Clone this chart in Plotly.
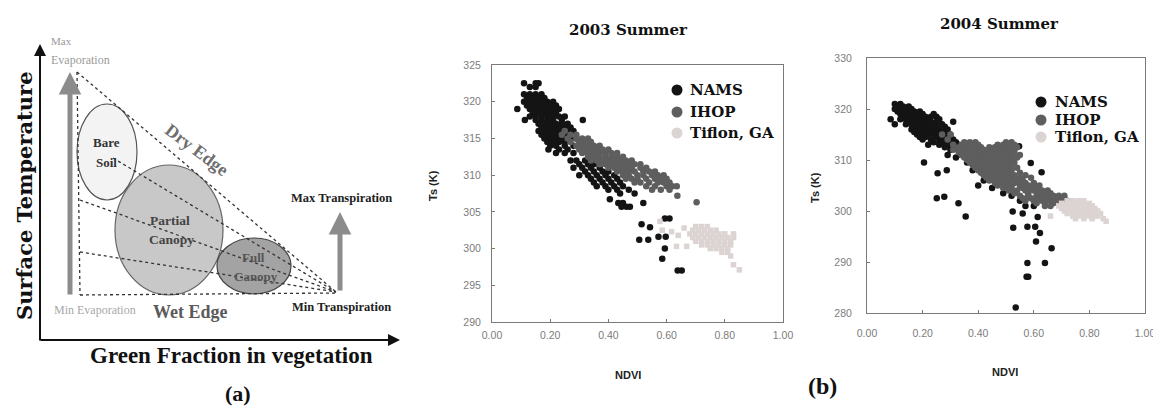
import plotly.graph_objects as go

W, H = 1161, 410
OFF = 8  # the page body margin shifts the figure by 8 px; positions below are window pixels

# ---------------- Scatter data ----------------
# rows: (Ts [K], [NDVI values observed at that Ts])
nams_2003_rows = [
    (322.5, [0.110, 0.150, 0.160]),
    (322.0, [0.130, 0.150]),
    (321.0, [0.110, 0.130, 0.150, 0.170]),
    (320.5, [0.120, 0.140, 0.160, 0.180]),
    (320.0, [0.110, 0.130, 0.150, 0.170, 0.190, 0.210]),
    (319.5, [0.120, 0.140, 0.160, 0.180, 0.200, 0.220]),
    (319.0, [0.087, 0.130, 0.150, 0.170, 0.190, 0.210, 0.230]),
    (318.5, [0.140, 0.160, 0.180, 0.200, 0.220]),
    (318.0, [0.130, 0.150, 0.170, 0.190, 0.210, 0.230, 0.250]),
    (317.5, [0.113, 0.150, 0.170, 0.190, 0.210, 0.240, 0.312]),
    (317.0, [0.160, 0.180, 0.200, 0.220, 0.240, 0.260]),
    (316.5, [0.170, 0.190, 0.210, 0.230, 0.250, 0.270]),
    (316.0, [0.160, 0.180, 0.200, 0.220, 0.240, 0.260, 0.280]),
    (315.5, [0.170, 0.190, 0.210, 0.230, 0.250]),
    (315.0, [0.180, 0.200, 0.220, 0.240, 0.270, 0.290]),
    (314.5, [0.190, 0.210, 0.230, 0.250]),
    (314.0, [0.200, 0.220, 0.250, 0.280]),
    (313.5, [0.194, 0.230, 0.260]),
    (313.0, [0.220, 0.250, 0.280]),
    (312.0, [0.270, 0.290, 0.320]),
    (311.5, [0.300, 0.330, 0.350]),
    (311.0, [0.280, 0.310, 0.340, 0.370]),
    (310.5, [0.320, 0.350, 0.380, 0.400]),
    (310.0, [0.300, 0.330, 0.360, 0.390, 0.420]),
    (309.5, [0.340, 0.370, 0.400, 0.430]),
    (309.0, [0.350, 0.380, 0.410, 0.440]),
    (308.5, [0.360, 0.390, 0.420, 0.450]),
    (308.0, [0.400, 0.430, 0.470]),
    (307.5, [0.440, 0.490]),
    (306.7, [0.405]),
    (306.2, [0.434, 0.450, 0.520]),
    (305.7, [0.445, 0.462, 0.474]),
    (304.1, [0.594, 0.610]),
    (303.3, [0.514]),
    (302.9, [0.543]),
    (301.6, [0.572, 0.597]),
    (301.2, [0.506, 0.537]),
    (300.0, [0.594]),
    (298.6, [0.585]),
    (297.0, [0.638, 0.652]),
]

ihop_2003_rows = [
    (316.0, [0.250]),
    (315.5, [0.240, 0.270, 0.290]),
    (315.0, [0.260, 0.290, 0.310, 0.330]),
    (314.5, [0.270, 0.300, 0.320, 0.340]),
    (314.0, [0.290, 0.310, 0.330, 0.350, 0.370]),
    (313.5, [0.300, 0.320, 0.340, 0.360, 0.380, 0.400]),
    (313.0, [0.310, 0.330, 0.350, 0.370, 0.390, 0.410, 0.430]),
    (312.5, [0.330, 0.350, 0.370, 0.390, 0.410, 0.430, 0.450]),
    (312.0, [0.340, 0.360, 0.380, 0.400, 0.420, 0.440, 0.460, 0.480]),
    (311.5, [0.370, 0.390, 0.410, 0.430, 0.450, 0.470, 0.490, 0.510]),
    (311.0, [0.400, 0.420, 0.440, 0.460, 0.480, 0.510, 0.530]),
    (310.5, [0.430, 0.450, 0.470, 0.490, 0.520, 0.540, 0.560]),
    (310.0, [0.450, 0.470, 0.500, 0.520, 0.550, 0.570, 0.590]),
    (309.5, [0.460, 0.480, 0.500, 0.530, 0.560, 0.580, 0.600]),
    (309.0, [0.490, 0.510, 0.540, 0.570, 0.590, 0.610]),
    (308.5, [0.530, 0.560, 0.600, 0.620, 0.635]),
    (308.0, [0.550, 0.580, 0.610]),
    (307.2, [0.637]),
    (306.3, [0.703]),
]

tifton_2003_rows = [
    (303.7, [0.577]),
    (303.0, [0.700, 0.720, 0.740]),
    (302.8, [0.660]),
    (302.5, [0.585, 0.690, 0.710, 0.730, 0.750, 0.770]),
    (302.3, [0.617]),
    (302.0, [0.680, 0.700, 0.720, 0.740, 0.760, 0.780, 0.800, 0.830]),
    (301.8, [0.640]),
    (301.5, [0.690, 0.710, 0.730, 0.750, 0.770, 0.790, 0.810, 0.830]),
    (301.0, [0.700, 0.720, 0.740, 0.760, 0.780, 0.800, 0.820]),
    (300.5, [0.720, 0.740, 0.760, 0.780, 0.800, 0.820]),
    (300.3, [0.634, 0.669]),
    (300.0, [0.750, 0.770, 0.790, 0.810]),
    (299.5, [0.790, 0.810]),
    (299.0, [0.820]),
    (297.8, [0.830]),
    (297.1, [0.850]),
]

nams_2004_rows = [
    (321.0, [0.100, 0.120]),
    (320.5, [0.110, 0.130, 0.150]),
    (320.0, [0.100, 0.120, 0.140, 0.160]),
    (319.5, [0.110, 0.130, 0.150, 0.170, 0.190]),
    (319.0, [0.120, 0.140, 0.160, 0.180, 0.200, 0.240]),
    (318.5, [0.130, 0.150, 0.170, 0.190, 0.210, 0.230, 0.250]),
    (318.0, [0.085, 0.120, 0.140, 0.160, 0.180, 0.200, 0.220, 0.260]),
    (317.5, [0.150, 0.170, 0.190, 0.210, 0.230, 0.250, 0.310]),
    (317.0, [0.100, 0.140, 0.160, 0.180, 0.200, 0.220, 0.240, 0.270]),
    (316.5, [0.170, 0.190, 0.210, 0.230, 0.250, 0.280]),
    (316.0, [0.160, 0.180, 0.200, 0.220, 0.240, 0.260, 0.290]),
    (315.5, [0.170, 0.190, 0.210, 0.230, 0.250, 0.270]),
    (315.0, [0.180, 0.200, 0.220, 0.240, 0.260, 0.280, 0.300]),
    (314.5, [0.190, 0.210, 0.250, 0.270, 0.290]),
    (314.0, [0.200, 0.230, 0.260, 0.280, 0.310]),
    (313.5, [0.240, 0.270, 0.300, 0.320]),
    (313.0, [0.220, 0.260, 0.290, 0.330]),
    (312.7, [0.547]),
    (312.5, [0.280, 0.310, 0.340]),
    (312.0, [0.300, 0.330, 0.360]),
    (311.0, [0.290, 0.340]),
    (310.5, [0.320]),
    (309.5, [0.205, 0.360]),
    (309.4, [0.589]),
    (308.0, [0.287, 0.380]),
    (307.6, [0.628]),
    (307.4, [0.254]),
    (306.0, [0.420, 0.470]),
    (305.0, [0.400]),
    (304.5, [0.450]),
    (303.5, [0.490]),
    (303.0, [0.520]),
    (302.8, [0.278]),
    (302.5, [0.251]),
    (302.0, [0.550]),
    (301.5, [0.329]),
    (301.0, [0.570, 0.600]),
    (299.9, [0.524]),
    (299.5, [0.560]),
    (298.9, [0.355]),
    (298.8, [0.614]),
    (296.9, [0.577, 0.605]),
    (296.7, [0.526]),
    (295.7, [0.622]),
    (294.0, [0.608]),
    (292.7, [0.664]),
    (289.8, [0.577, 0.640]),
    (287.1, [0.574, 0.580]),
    (281.1, [0.535]),
]

ihop_2004_rows = [
    (315.0, [0.270, 0.300]),
    (314.0, [0.290]),
    (313.5, [0.350, 0.370, 0.390, 0.500, 0.520]),
    (313.0, [0.310, 0.340, 0.360, 0.380, 0.400, 0.470, 0.490, 0.510, 0.530]),
    (312.5, [0.330, 0.350, 0.370, 0.390, 0.410, 0.440, 0.460, 0.480, 0.500, 0.520, 0.540]),
    (312.0, [0.310, 0.340, 0.360, 0.380, 0.400, 0.420, 0.450, 0.470, 0.490, 0.510, 0.530]),
    (311.5, [0.330, 0.350, 0.370, 0.390, 0.410, 0.430, 0.450, 0.470, 0.490, 0.510, 0.530]),
    (311.0, [0.340, 0.360, 0.380, 0.400, 0.420, 0.440, 0.460, 0.480, 0.500, 0.520, 0.550]),
    (310.5, [0.350, 0.370, 0.390, 0.410, 0.430, 0.450, 0.470, 0.490, 0.510, 0.540]),
    (310.0, [0.360, 0.380, 0.400, 0.420, 0.440, 0.460, 0.480, 0.500, 0.520]),
    (309.5, [0.370, 0.390, 0.410, 0.430, 0.450, 0.470, 0.490, 0.510, 0.530]),
    (309.0, [0.380, 0.400, 0.420, 0.440, 0.460, 0.480, 0.500, 0.520]),
    (308.5, [0.390, 0.410, 0.430, 0.450, 0.470, 0.490, 0.510, 0.540]),
    (308.0, [0.400, 0.420, 0.440, 0.460, 0.480, 0.500, 0.520]),
    (307.5, [0.410, 0.430, 0.450, 0.470, 0.490, 0.510, 0.550]),
    (307.0, [0.420, 0.440, 0.460, 0.480, 0.500, 0.530, 0.570]),
    (306.5, [0.430, 0.450, 0.470, 0.490, 0.520, 0.550, 0.590]),
    (306.0, [0.440, 0.460, 0.480, 0.510, 0.540, 0.560]),
    (305.5, [0.460, 0.480, 0.500, 0.530, 0.550, 0.570, 0.600]),
    (305.0, [0.470, 0.500, 0.520, 0.550, 0.580, 0.620]),
    (304.5, [0.490, 0.520, 0.560, 0.590, 0.610]),
    (304.0, [0.510, 0.540, 0.570, 0.600, 0.630, 0.650]),
    (303.5, [0.530, 0.580, 0.620, 0.640, 0.660]),
    (303.0, [0.550, 0.580, 0.610, 0.640, 0.670, 0.690, 0.710]),
    (302.5, [0.560, 0.590, 0.620, 0.650, 0.680, 0.700]),
    (302.0, [0.570, 0.600, 0.630, 0.660, 0.690, 0.720]),
    (301.8, [0.736]),
    (301.5, [0.610, 0.640, 0.670]),
    (301.0, [0.640, 0.660]),
]

tifton_2004_rows = [
    (302.0, [0.720, 0.740, 0.760, 0.780]),
    (301.5, [0.700, 0.720, 0.740, 0.760, 0.780, 0.800]),
    (301.0, [0.690, 0.710, 0.730, 0.750, 0.770, 0.790, 0.810]),
    (300.5, [0.700, 0.720, 0.740, 0.760, 0.780, 0.800, 0.820]),
    (300.0, [0.710, 0.730, 0.750, 0.770, 0.790, 0.810, 0.830]),
    (299.5, [0.720, 0.740, 0.760, 0.780, 0.800, 0.820, 0.840]),
    (299.0, [0.660, 0.740, 0.760, 0.780, 0.800, 0.830]),
    (298.5, [0.750, 0.780, 0.810, 0.850]),
    (298.0, [0.860]),
]

series_names = ["NAMS", "IHOP", "Tiflon, GA"]
series_colors = ["#141414", "#5e5e5e", "#dcd3d3"]
series_sizes = [6.5, 6.5, 5.5]

x_ticks = [0.0, 0.2, 0.4, 0.6, 0.8, 1.0]
y_ticks_2003 = [290, 295, 300, 305, 310, 315, 320, 325]
y_ticks_2004 = [280, 290, 300, 310, 320, 330]
panel_titles = ["2003 Summer", "2004 Summer"]

# ---------------- Schematic (a) geometry, in window-pixel diagram units ----------------
ellipses = [  # cx, cy, rx, ry, fill, line colour
    (107, 152, 30, 48, "#f3f3f3", "#555555"),
    (169, 230, 54, 65, "#c8c8c8", "#666666"),
    (254, 266, 37, 28, "#a3a3a3", "#444444"),
]
dashed_lines = [  # x0, y0, x1, y1
    (77, 72, 336, 292),
    (77, 72, 80, 295),
    (80, 295, 336, 293),
    (80, 200, 336, 292),
    (80, 252, 336, 292),
    (113, 158, 336, 292),
]
grey_arrows = [(70, 296, 70, 72), (340, 292, 340, 212)]   # tail x,y -> head x,y
axis_arrows = [(40, 342, 40, 44), (39, 340, 400, 340)]


def expand(rows):
    xs, ys = [], []
    for y, xlist in rows:
        for x in xlist:
            xs.append(x)
            ys.append(y)
    return xs, ys


def px(x):
    return (x - OFF) / W


def py(y):
    return 1 - (y - OFF) / H


fig = go.Figure()

for rows_list, xa, ya in [
    ([nams_2003_rows, ihop_2003_rows, tifton_2003_rows], "x", "y"),
    ([nams_2004_rows, ihop_2004_rows, tifton_2004_rows], "x2", "y2"),
]:
    for i, rows in enumerate(rows_list):
        xs, ys = expand(rows)
        fig.add_trace(go.Scatter(
            x=xs, y=ys, mode="markers", name=series_names[i], xaxis=xa, yaxis=ya,
            marker=dict(color=series_colors[i], size=series_sizes[i],
                        symbol="circle" if i < 2 else "square",
                        line=dict(width=0)),
            showlegend=False, hoverinfo="skip"))

tickfont = dict(family="Liberation Sans", size=10.5, color="#7c7c7c")
frame = dict(showline=True, mirror=True, linecolor="#7a7a7a", linewidth=1,
             showgrid=False, zeroline=False, ticks="inside", ticklen=3,
             tickcolor="#7a7a7a", tickfont=tickfont)

fig.update_layout(
    width=W, height=H, autosize=False,
    margin=dict(l=0, r=0, t=0, b=0, pad=0, autoexpand=False),
    paper_bgcolor="white", plot_bgcolor="white",
    showlegend=False,
    xaxis=dict(domain=[px(492), px(783)], range=[0, 1], tickvals=x_ticks,
               tickformat=".2f", anchor="y", ticklabelstandoff=3, **frame),
    yaxis=dict(domain=[py(322), py(65)], range=[290, 325], tickvals=y_ticks_2003,
               anchor="x", ticklabelstandoff=8, **frame),
    xaxis2=dict(domain=[px(867), px(1145)], range=[0, 1], tickvals=x_ticks,
                tickformat=".2f", anchor="y2", ticklabelstandoff=10, **frame),
    yaxis2=dict(domain=[py(313), py(58)], range=[280, 330], tickvals=y_ticks_2004,
                anchor="x2", ticklabelstandoff=12, **frame),
    xaxis3=dict(domain=[0, 400 / W], range=[OFF, OFF + 400], visible=False, anchor="y3"),
    yaxis3=dict(domain=[0, 1], range=[OFF + H, OFF], visible=False, anchor="x3"),
)

shapes = []
for cx, cy, rx, ry, fill, lc in ellipses:
    shapes.append(dict(type="circle", xref="x3", yref="y3",
                       x0=cx - rx, x1=cx + rx, y0=cy - ry, y1=cy + ry,
                       fillcolor=fill, line=dict(color=lc, width=1.2)))
for x0, y0, x1, y1 in dashed_lines:
    shapes.append(dict(type="line", xref="x3", yref="y3", x0=x0, y0=y0, x1=x1, y1=y1,
                       line=dict(color="#333333", width=1.3, dash="dot")))

# manual legends
legend_pos = [(677, [90, 112, 133], 688), (1041, [102, 120, 137], 1053)]
annotations = []
for mx, ys_, tx in legend_pos:
    for i, yy in enumerate(ys_):
        r = 5.5
        shapes.append(dict(type="circle", xref="paper", yref="paper",
                           x0=px(mx - r), x1=px(mx + r), y0=py(yy + r), y1=py(yy - r),
                           fillcolor=series_colors[i], line=dict(width=0)))
        annotations.append(dict(xref="paper", yref="paper", x=px(tx), y=py(yy),
                                text=series_names[i], showarrow=False,
                                xanchor="left", yanchor="middle",
                                font=dict(family="DejaVu Serif", size=15, color="#111111",
                                          weight="bold")))

fig.update_layout(shapes=shapes)

# arrows in schematic
for tx_, ty_, hx, hy in grey_arrows:
    annotations.append(dict(xref="x3", yref="y3", axref="x3", ayref="y3",
                            x=hx, y=hy, ax=tx_, ay=ty_, text="", showarrow=True,
                            arrowhead=2, arrowsize=0.9, arrowwidth=5, arrowcolor="#8c8c8c"))
for tx_, ty_, hx, hy in axis_arrows:
    annotations.append(dict(xref="x3", yref="y3", axref="x3", ayref="y3",
                            x=hx, y=hy, ax=tx_, ay=ty_, text="", showarrow=True,
                            arrowhead=2, arrowsize=1.2, arrowwidth=2, arrowcolor="#111111"))


def ta(x, y, text, size, color="#222222", family="Liberation Serif", bold=False,
       angle=0, xanchor="center", ref="x3"):
    d = dict(x=x, y=y, text=text, showarrow=False, textangle=angle,
             xanchor=xanchor, yanchor="middle",
             font=dict(family=family, size=size, color=color,
                       weight="bold" if bold else "normal"))
    if ref == "x3":
        d.update(xref="x3", yref="y3")
    else:
        d.update(xref="paper", yref="paper", x=px(x), y=py(y))
    return d


annotations += [
    ta(24, 196, "Surface Temperature", 21, "#111111", "DejaVu Serif", True, -90),
    ta(231, 355, "Green Fraction in vegetation", 23, "#111111", "Liberation Serif", True),
    ta(238, 393, "(a)", 22, "#111111", "Liberation Serif", True),
    ta(49, 41, "Max", 11, "#9a9a9a", xanchor="left"),
    ta(49, 60, "Evaporation", 12, "#9a9a9a", xanchor="left"),
    ta(197, 150, "Dry Edge", 18, "#6e6e6e", bold=True, angle=37),
    ta(106, 142, "Bare", 13, "#333333", bold=True),
    ta(106, 162, "Soil", 13, "#333333", bold=True),
    ta(170, 220, "Partial", 13.5, "#444444", bold=True),
    ta(171, 239, "Canopy", 13.5, "#444444", bold=True),
    ta(253, 257, "Full", 13, "#555555", bold=True),
    ta(256, 276, "Canopy", 13, "#555555", bold=True),
    ta(341, 198, "Max Transpiration", 12.5, "#222222", bold=True),
    ta(341, 307, "Min Transpiration", 12.5, "#222222", bold=True),
    ta(95, 310, "Min Evaporation", 12, "#a8a8a8"),
    ta(190, 312, "Wet Edge", 18, "#5a5a5a", bold=True),
    # panel (b)
    ta(628, 30, panel_titles[0], 15, "#111111", "DejaVu Serif", True, ref="paper"),
    ta(999, 24, panel_titles[1], 15, "#111111", "DejaVu Serif", True, ref="paper"),
    ta(433, 186, "Ts (K)", 11, "#222222", "Liberation Sans", True, -90, ref="paper"),
    ta(815, 188, "Ts (K)", 11, "#222222", "Liberation Sans", True, -90, ref="paper"),
    ta(628, 375, "NDVI", 11, "#222222", "Liberation Sans", True, ref="paper"),
    ta(1005, 372, "NDVI", 11, "#222222", "Liberation Sans", True, ref="paper"),
    ta(822, 386, "(b)", 24, "#111111", "Liberation Serif", True, ref="paper"),
]

fig.update_layout(annotations=annotations)
fig.write_html("out.html")
